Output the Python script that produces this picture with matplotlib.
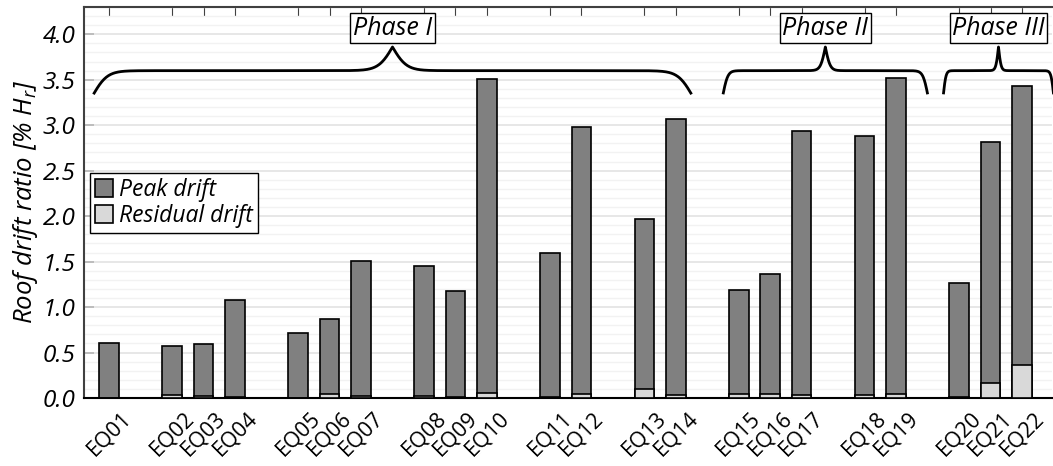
import numpy as np
import matplotlib
matplotlib.use("Agg")
import matplotlib.pyplot as plt
from matplotlib.patches import Patch

plt.rcParams['font.family'] = ['Open Sans', 'DejaVu Sans']
plt.rcParams['mathtext.fontset'] = 'custom'
plt.rcParams['mathtext.it'] = 'Open Sans:italic'
plt.rcParams['mathtext.rm'] = 'Open Sans'

# ---------------------------------------------------------------- data
labels = ["EQ01", "EQ02", "EQ03", "EQ04", "EQ05", "EQ06", "EQ07", "EQ08",
          "EQ09", "EQ10", "EQ11", "EQ12", "EQ13", "EQ14", "EQ15", "EQ16",
          "EQ17", "EQ18", "EQ19", "EQ20", "EQ21", "EQ22"]
# slot of each record on the x axis (gaps separate the test groups)
slots = [0, 2, 3, 4, 6, 7, 8, 10, 11, 12, 14, 15, 17, 18,
         20, 21, 22, 24, 25, 27, 28, 29]
peak = [0.60, 0.57, 0.59, 1.08, 0.72, 0.87, 1.51, 1.45, 1.18, 3.51, 1.60,
        2.98, 1.97, 3.07, 1.19, 1.36, 2.94, 2.88, 3.52, 1.26, 2.82, 3.43]
residual = [0.005, 0.035, 0.02, 0.01, 0.005, 0.04, 0.025, 0.025, 0.015, 0.06,
            0.01, 0.045, 0.10, 0.03, 0.04, 0.04, 0.03, 0.035, 0.04, 0.01,
            0.17, 0.36]
phase_names = ["Phase I", "Phase II", "Phase III"]
phase_start = [-0.5, 19.5, 26.5]
phase_end = [18.5, 26.0, 30.0]
#-----------------------------------------------------------------------

def brace(ax, x0, x1, yy, amp):
    half = (x1 - x0) / 2
    beta = 85.0 / (x1 - x0)
    t = np.linspace(0, half, 400)
    yh = 1/(1 + np.exp(-beta*t)) + 1/(1 + np.exp(-beta*(t - half)))
    y = np.concatenate((yh, yh[-2::-1]))
    x = np.concatenate((x0 + t, x0 + half + t[1:]))
    ax.plot(x, yy + (y - 1)*amp, color='black', lw=2, zorder=5,
            clip_on=False, solid_capstyle='butt')


fig = plt.figure(figsize=(10.53, 4.66), dpi=100)
ax = fig.add_axes([84/1053, 68/466, 968/1053, 391/466])

ax.bar(slots, peak, width=0.62, color='#808080', edgecolor='black',
       linewidth=1.2, zorder=3)
ax.bar(slots, residual, width=0.62, color='#d9d9d9', edgecolor='black',
       linewidth=1.2, zorder=4)

ax.set_xlim(-0.8, 29.95)
ax.set_ylim(0, 4.3)
ax.set_yticks(np.arange(0, 4.01, 0.5))
ax.set_yticks(np.arange(0, 4.31, 0.1), minor=True)
ax.set_yticklabels([f"{v:.1f}" for v in np.arange(0, 4.01, 0.5)],
                   fontsize=17.5, style='italic')
ax.set_xticks(slots)
ax.set_xticklabels(labels, rotation=45, fontsize=15.5)
ax.grid(which='major', axis='y', color='#e3e3e3', lw=1.2, zorder=0)
ax.grid(which='minor', axis='y', color='#f2f2f2', lw=1.0, zorder=0)
ax.set_axisbelow(True)

ax.tick_params(axis='x', which='both', bottom=False, top=True,
               direction='in', length=6.5, color='#404040', pad=7)
ax.tick_params(axis='y', which='major', direction='in', length=7,
               color='#b5b5b5', width=1.2, pad=6)
ax.tick_params(axis='y', which='minor', left=False)

ax.spines['right'].set_visible(False)
ax.spines['left'].set_color('#404040')
ax.spines['top'].set_color('#404040')
ax.spines['bottom'].set_color('black')
for s in ('left', 'top', 'bottom'):
    ax.spines[s].set_linewidth(1.5)

ax.set_ylabel(r"Roof drift ratio [% $H_r$]", fontsize=18.5, style='italic',
              labelpad=2)

for name, a, b in zip(phase_names, phase_start, phase_end):
    brace(ax, a, b, 3.6, 0.52)
    ax.text((a + b)/2, 4.066, name, ha='center', va='center', fontsize=18,
            style='italic', zorder=6,
            bbox=dict(boxstyle='square,pad=0.1', fc='white', ec='black',
                      lw=1.0))

handles = [Patch(facecolor='#808080', edgecolor='black', lw=1.2),
           Patch(facecolor='#d9d9d9', edgecolor='black', lw=1.2)]
leg = ax.legend(handles, ["Peak drift", "Residual drift"], loc='upper left',
                bbox_to_anchor=(0.006, 0.575), borderaxespad=0,
                prop={'size': 16.5, 'style': 'italic'}, fancybox=False,
                edgecolor='black', framealpha=1, handlelength=0.8,
                handleheight=0.8, handletextpad=0.25, labelspacing=0.08,
                borderpad=0.22)
leg.get_frame().set_linewidth(1.0)
leg.set_zorder(7)

fig.savefig("out.png", dpi=100)
